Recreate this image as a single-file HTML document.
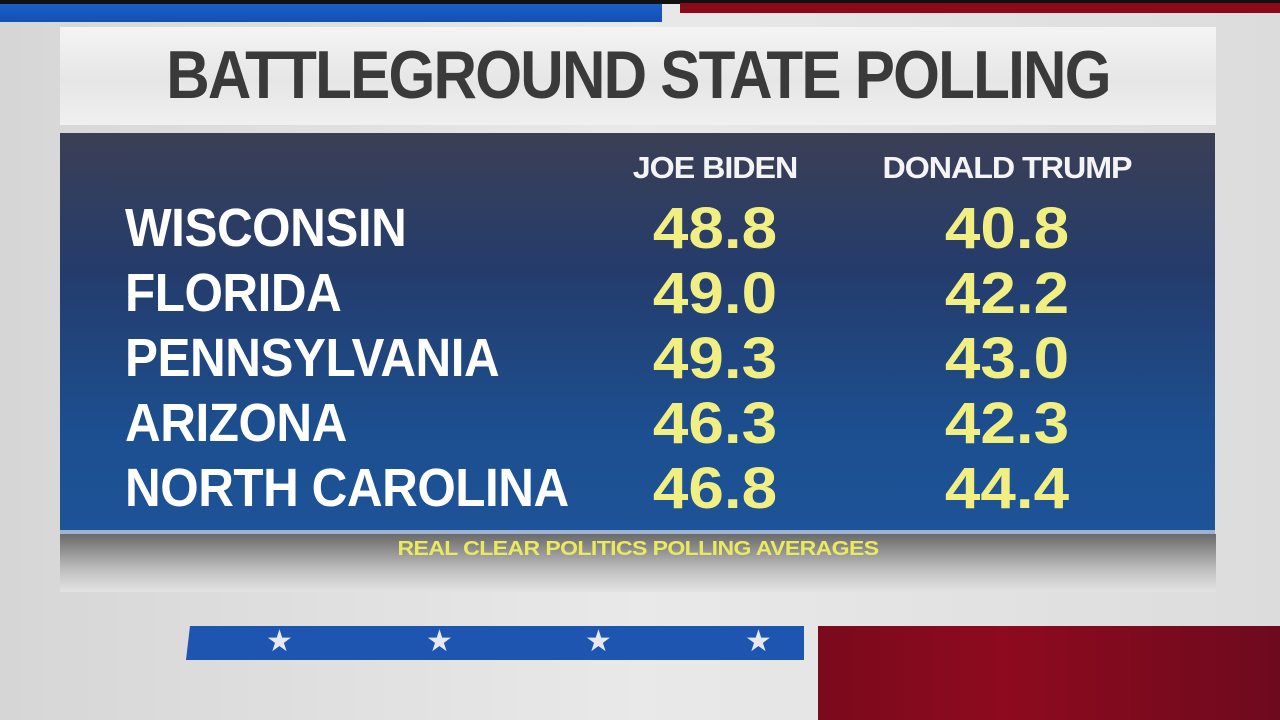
<!DOCTYPE html>
<html><head><style>
body{margin:0;width:1280px;height:720px;overflow:hidden;background:linear-gradient(90deg,#d6d6d6,#e9e9e9 50%,#dcdcdc);font-family:"Liberation Sans",sans-serif;position:relative}
div{position:absolute}
.t{font-weight:bold;color:#fff;font-size:54px;left:125px;letter-spacing:-0.5px;transform:scaleX(0.915);transform-origin:left}
.n{font-weight:bold;color:#f1ee82;font-size:58px;width:200px;text-align:center;transform:scaleX(1.1)}
.h{font-weight:bold;color:#f4f4f4;font-size:31px;width:320px;text-align:center;letter-spacing:-1px;transform:scaleX(1.04)}
.s{color:#e8e8f0;font-size:30px;top:624px}
</style></head><body>
<div style="left:0;top:0;width:1280px;height:4px;background:#111"></div>
<div style="left:0;top:4px;width:662px;height:18px;background:linear-gradient(#1a5ec8,#1550b4)"></div>
<div style="left:680px;top:3px;width:600px;height:10px;background:#8a0a1a"></div>
<div style="left:60px;top:27px;width:1156px;height:98px;background:linear-gradient(#f4f4f4,#e6e6e6 55%,#f0f0f0)"></div>
<div style="left:60px;top:36px;width:1156px;text-align:center;font-weight:bold;font-size:68px;color:#3a3a3a;letter-spacing:-2px;transform:scaleX(0.885)">BATTLEGROUND STATE POLLING</div>
<div style="left:60px;top:133px;width:1155px;height:397px;background:linear-gradient(#3b3f55,#243c6c 35%,#1c4f90 75%,#1d5398)"></div>
<div style="left:60px;top:530px;width:1155px;height:4px;background:#9fb3d0"></div>
<div style="left:60px;top:534px;width:1156px;height:58px;background:linear-gradient(#6a6a6a,#bdbdbd 60%,#e4e4e4)"></div>
<div style="left:60px;top:538px;width:1156px;text-align:center;font-weight:bold;font-size:20px;color:#eaea60;letter-spacing:-0.5px;transform:scaleX(1.15)">REAL CLEAR POLITICS POLLING AVERAGES</div>
<div class="h" style="left:555px;top:150px">JOE BIDEN</div>
<div class="h" style="left:847px;top:150px">DONALD TRUMP</div>
<div class="t" style="top:197px">WISCONSIN</div>
<div class="t" style="top:262px">FLORIDA</div>
<div class="t" style="top:327px">PENNSYLVANIA</div>
<div class="t" style="top:392px">ARIZONA</div>
<div class="t" style="top:457px">NORTH CAROLINA</div>
<div class="n" style="left:615px;top:195px">48.8</div><div class="n" style="left:907px;top:195px">40.8</div>
<div class="n" style="left:615px;top:260px">49.0</div><div class="n" style="left:907px;top:260px">42.2</div>
<div class="n" style="left:615px;top:325px">49.3</div><div class="n" style="left:907px;top:325px">43.0</div>
<div class="n" style="left:615px;top:390px">46.3</div><div class="n" style="left:907px;top:390px">42.3</div>
<div class="n" style="left:615px;top:455px">46.8</div><div class="n" style="left:907px;top:455px">44.4</div>
<div style="left:186px;top:626px;width:618px;height:34px;background:#1d55b0;clip-path:polygon(4px 0,100% 0,100% 100%,0 100%)"></div>
<div class="s" style="left:266px">★</div><div class="s" style="left:426px">★</div><div class="s" style="left:585px">★</div><div class="s" style="left:745px">★</div>
<div style="left:818px;top:626px;width:462px;height:94px;background:linear-gradient(90deg,#7a0a1c,#8e0a1e 40%,#6e0a1e)"></div>
</body></html>
